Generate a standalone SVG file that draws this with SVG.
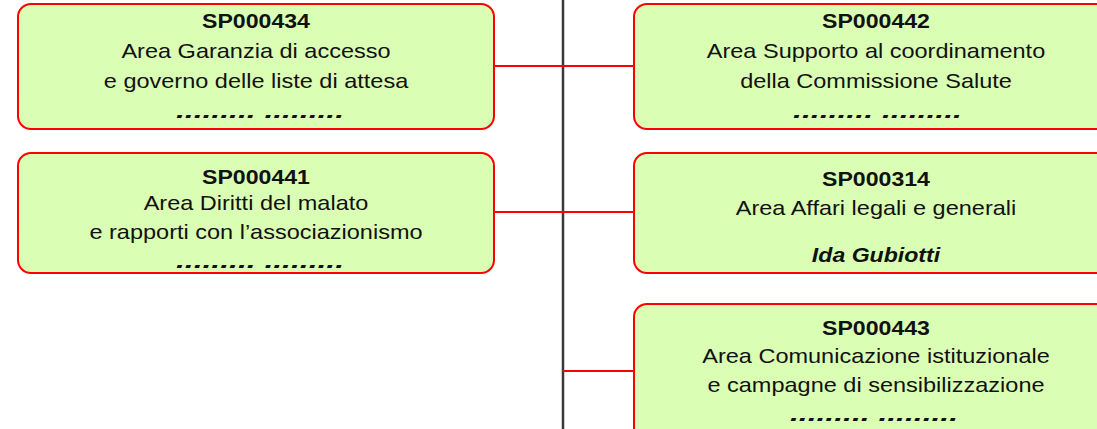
<svg xmlns="http://www.w3.org/2000/svg" width="1097" height="429" viewBox="0 0 1097 429">
<style>
.box{fill:#daffb4;stroke:#ff0000;stroke-width:2}
.t{font-family:"Liberation Sans",Arial,sans-serif;font-size:21px;fill:#111;text-anchor:middle}
.b{font-weight:bold}
.bi{font-weight:bold;font-style:italic}
.d{font-family:"Liberation Sans",Arial,sans-serif;font-size:21px;font-weight:bold;font-style:italic;fill:#111}
.red{stroke:#ff0000;stroke-width:2;fill:none}
.trunk{stroke:#3a3a3a;stroke-width:2.5;fill:none}
</style>
<rect width="1097" height="429" fill="#ffffff"/>
<g id="connectors">
<line class="trunk" x1="563" y1="0" x2="563" y2="429"/>
<line class="red" x1="494" y1="66" x2="634" y2="66"/>
<line class="red" x1="494" y1="212" x2="634" y2="212"/>
<line class="red" x1="563" y1="371" x2="634" y2="371"/>
</g>
<g id="SP000434">
<rect class="box" x="18" y="4" width="476" height="125" rx="13"/>
<text class="t b" transform="translate(256,28) scale(1.1,1)">SP000434</text>
<text class="t" transform="translate(256,58) scale(1.12,1)">Area Garanzia di accesso</text>
<text class="t" transform="translate(256,88) scale(1.12,1)">e governo delle liste di attesa</text>
<text class="d" x="176" y="118" textLength="168" lengthAdjust="spacingAndGlyphs">.........  .........</text>
</g>
<g id="SP000441">
<rect class="box" x="18" y="153" width="476" height="120" rx="13"/>
<text class="t b" transform="translate(256,184) scale(1.1,1)">SP000441</text>
<text class="t" transform="translate(256,210) scale(1.12,1)">Area Diritti del malato</text>
<text class="t" transform="translate(256,239) scale(1.12,1)">e rapporti con l’associazionismo</text>
<text class="d" x="176" y="268" textLength="168" lengthAdjust="spacingAndGlyphs">.........  .........</text>
</g>
<g id="SP000442">
<rect class="box" x="634" y="4" width="490" height="125" rx="13"/>
<text class="t b" transform="translate(876,28) scale(1.1,1)">SP000442</text>
<text class="t" transform="translate(876,58) scale(1.12,1)">Area Supporto al coordinamento</text>
<text class="t" transform="translate(876,88) scale(1.12,1)">della Commissione Salute</text>
<text class="d" x="793" y="118" textLength="169" lengthAdjust="spacingAndGlyphs">.........  .........</text>
</g>
<g id="SP000314">
<rect class="box" x="634" y="153" width="490" height="120" rx="13"/>
<text class="t b" transform="translate(876,186) scale(1.1,1)">SP000314</text>
<text class="t" transform="translate(876,215) scale(1.12,1)">Area Affari legali e generali</text>
<text class="t bi" transform="translate(876,262) scale(1.1,1)">Ida Gubiotti</text>
</g>
<g id="SP000443">
<rect class="box" x="634" y="304" width="490" height="140" rx="13"/>
<text class="t b" transform="translate(876,335) scale(1.1,1)">SP000443</text>
<text class="t" transform="translate(876,363) scale(1.12,1)">Area Comunicazione istituzionale</text>
<text class="t" transform="translate(876,392) scale(1.12,1)">e campagne di sensibilizzazione</text>
<text class="d" x="790" y="421" textLength="168" lengthAdjust="spacingAndGlyphs">.........  .........</text>
</g>
</svg>
